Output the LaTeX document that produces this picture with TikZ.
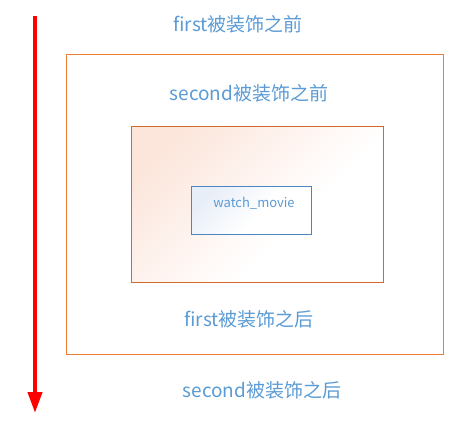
\documentclass[tikz,border=0pt]{standalone}
\usepackage{fontspec}
\setmainfont{Noto Sans CJK SC}
\usetikzlibrary{arrows.meta,shadings}
\definecolor{txtblue}{HTML}{5B9BD5}
\definecolor{outerorange}{HTML}{ED7D31}
\definecolor{innerorange}{HTML}{D26A2A}
\definecolor{boxblue}{HTML}{4A86C0}
\definecolor{peach}{HTML}{FCE6DC}
\definecolor{paleblue}{HTML}{E8EEF8}
\pgfdeclareverticalshading{peachfade}{100bp}{color(0bp)=(white); color(25bp)=(white); color(40bp)=(white); color(75bp)=(peach); color(100bp)=(peach)}
\pgfdeclareverticalshading{bluefade}{100bp}{color(0bp)=(white); color(25bp)=(white); color(45bp)=(white); color(75bp)=(paleblue); color(100bp)=(paleblue)}
\tikzset{
  lbl/.style={text=txtblue, font=\fontsize{19}{21}\selectfont, inner sep=0pt},
  small/.style={text=txtblue, font=\fontsize{13}{15}\selectfont, inner sep=0pt},
}
\begin{document}
\begin{tikzpicture}[x=1pt,y=-1pt]
\useasboundingbox (0,0) rectangle (474,421);
% outer box
\draw[outerorange, line width=1pt] (66,54) rectangle (443,354);
% inner box with gradient
\shade[shading=peachfade, shading angle=45] (131,126) rectangle (383,282);
\draw[innerorange, line width=1pt] (131,126) rectangle (383,282);
% watch_movie box
\shade[shading=bluefade, shading angle=45] (191,186) rectangle (311.5,234);
\draw[boxblue, line width=0.9pt] (191,186) rectangle (311.5,234);
\node[small] (wm) at (254,203) {watch\_movie};
% labels
\node[lbl] (t1) at (238,24) {first被装饰之前};
\node[lbl] (t2) at (249,93) {second被装饰之前};
\node[lbl] (t3) at (249,319) {first被装饰之后};
\node[lbl] (t4) at (262,390) {second被装饰之后};
% arrow
\coordinate (a0) at (35,16);
\coordinate (a1) at (35,413);
\draw[red, line width=4pt, -{Triangle[length=21pt,width=14pt]}] (a0) -- (a1);
\end{tikzpicture}
\end{document}
